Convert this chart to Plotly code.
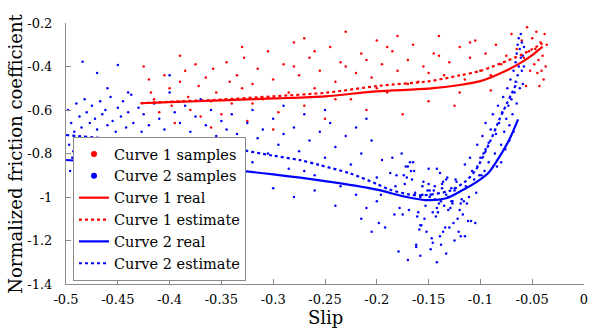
import plotly.graph_objects as go

# ---------------- data ----------------
x_tickvals = [-0.5, -0.45, -0.4, -0.35, -0.3, -0.25, -0.2, -0.15, -0.1, -0.05, 0]
x_ticktext = ["-0.5", "-0.45", "-0.4", "-0.35", "-0.3", "-0.25", "-0.2", "-0.15", "-0.1", "-0.05", "0"]
y_tickvals = [-1.4, -1.2, -1.0, -0.8, -0.6, -0.4, -0.2]
y_ticktext = ["-1.4", "-1.2", "-1", "-0.8", "-0.6", "-0.4", "-0.2"]
x_title = "Slip"
y_title = "Normalized friction coefficient"

curve1_real_x = [-0.428, -0.40, -0.35, -0.30, -0.25, -0.20, -0.15, -0.12, -0.10, -0.08, -0.06, -0.05, -0.04]
curve1_real_y = [-0.569, -0.564, -0.556, -0.547, -0.537, -0.514, -0.502, -0.485, -0.467, -0.430, -0.380, -0.348, -0.309]

curve1_est_x = [-0.428, -0.40, -0.35, -0.30, -0.25, -0.20, -0.15, -0.12, -0.10, -0.08, -0.06, -0.05, -0.04]
curve1_est_y = [-0.569, -0.562, -0.552, -0.537, -0.521, -0.490, -0.468, -0.441, -0.420, -0.385, -0.345, -0.320, -0.293]

curve2_real_x = [-0.5, -0.45, -0.40, -0.35, -0.30, -0.25, -0.20, -0.175, -0.153, -0.133, -0.117, -0.101, -0.0915, -0.082, -0.0723, -0.0636]
curve2_real_y = [-0.830, -0.844, -0.858, -0.872, -0.896, -0.927, -0.966, -0.996, -1.014, -1.006, -0.968, -0.922, -0.885, -0.818, -0.738, -0.643]

curve2_est_x = [-0.5, -0.45, -0.40, -0.3356, -0.30, -0.2746, -0.2553, -0.226, -0.20, -0.188, -0.169, -0.155, -0.13, -0.115, -0.1044, -0.090, -0.0819, -0.0643]
curve2_est_y = [-0.715, -0.735, -0.755, -0.781, -0.810, -0.830, -0.853, -0.891, -0.940, -0.965, -0.988, -0.992, -0.972, -0.930, -0.875, -0.738, -0.646, -0.470]

samples1_x = [
    -0.425, -0.42, -0.418, -0.415, -0.41, -0.405, -0.40, -0.398, -0.395, -0.39,
    -0.385, -0.382, -0.38, -0.375, -0.372, -0.37, -0.365, -0.36, -0.358, -0.355,
    -0.35, -0.345, -0.342, -0.34, -0.335, -0.33, -0.328, -0.325, -0.32, -0.315,
    -0.31, -0.305, -0.30, -0.295, -0.29, -0.285, -0.28, -0.275, -0.27, -0.265,
    -0.26, -0.255, -0.25, -0.245, -0.24, -0.235, -0.23, -0.225, -0.22, -0.215,
    -0.21, -0.205, -0.20, -0.195, -0.19, -0.185, -0.18, -0.175, -0.17, -0.165,
    -0.16, -0.155, -0.15, -0.145, -0.14, -0.135, -0.13, -0.125, -0.12, -0.115,
    -0.11, -0.105, -0.10, -0.095, -0.09, -0.085, -0.08, -0.075, -0.07, -0.065,
    -0.39, -0.36, -0.33, -0.30, -0.27, -0.24, -0.21, -0.18, -0.15, -0.12,
    -0.26, -0.23, -0.20, -0.17, -0.14, -0.11, -0.09, -0.28, -0.32, -0.19,
    -0.06, -0.058, -0.055, -0.053, -0.05, -0.048, -0.046, -0.045, -0.044, -0.042,
    -0.041, -0.04, -0.039, -0.038, -0.037, -0.036, -0.052, -0.056, -0.043, -0.047,
]
samples1_y = [
    -0.40, -0.46, -0.52, -0.55, -0.61, -0.44, -0.50, -0.58, -0.66, -0.47,
    -0.42, -0.54, -0.60, -0.39, -0.49, -0.63, -0.45, -0.56, -0.41, -0.52,
    -0.62, -0.38, -0.47, -0.57, -0.44, -0.50, -0.36, -0.65, -0.48, -0.41,
    -0.55, -0.33, -0.46, -0.61, -0.39, -0.52, -0.29, -0.44, -0.58, -0.36,
    -0.50, -0.42, -0.64, -0.31, -0.47, -0.38, -0.24, -0.55, -0.43, -0.34,
    -0.60, -0.45, -0.28, -0.39, -0.52, -0.33, -0.42, -0.62, -0.37, -0.30,
    -0.47, -0.40, -0.56, -0.34, -0.26, -0.44, -0.38, -0.58, -0.31, -0.46,
    -0.36, -0.28, -0.42, -0.34, -0.51, -0.30, -0.39, -0.35, -0.25, -0.32,
    -0.35, -0.68, -0.31, -0.69, -0.27, -0.55, -0.37, -0.26, -0.43, -0.52,
    -0.33, -0.40, -0.50, -0.48, -0.35, -0.29, -0.44, -0.40, -0.57, -0.31,
    -0.28, -0.36, -0.22, -0.33, -0.27, -0.39, -0.24, -0.43, -0.37, -0.29,
    -0.42, -0.35, -0.46, -0.25, -0.40, -0.30, -0.42, -0.49, -0.49, -0.32,
]

samples2_x = [
    -0.498, -0.495, -0.492, -0.49, -0.487, -0.485, -0.482, -0.48, -0.477, -0.475,
    -0.472, -0.47, -0.467, -0.465, -0.462, -0.46, -0.457, -0.455, -0.452, -0.45,
    -0.447, -0.445, -0.442, -0.44, -0.437, -0.435, -0.43, -0.427, -0.425, -0.42,
    -0.415, -0.41, -0.405, -0.40, -0.395, -0.39, -0.385, -0.38, -0.375, -0.37,
    -0.47, -0.40, -0.44, -0.46, -0.365, -0.36, -0.355, -0.35, -0.345, -0.34,
    -0.497, -0.494, -0.496, -0.493, -0.484, -0.45,
    -0.335, -0.33, -0.325, -0.32, -0.315, -0.31, -0.305, -0.30, -0.295, -0.29,
    -0.285, -0.28, -0.275, -0.27, -0.265, -0.26, -0.255, -0.25, -0.245, -0.24,
    -0.235, -0.23, -0.225, -0.22, -0.215, -0.21, -0.205, -0.20, -0.198, -0.195,
    -0.30, -0.28, -0.26, -0.24, -0.22, -0.29, -0.25, -0.21, -0.32, -0.27,
    -0.172, -0.151, -0.183, -0.139, -0.166, -0.127, -0.158, -0.176, -0.144, -0.162,
    -0.131, -0.187, -0.149, -0.121, -0.168, -0.136, -0.154, -0.113, -0.179, -0.142,
    -0.125, -0.160, -0.134, -0.171, -0.118, -0.147, -0.185, -0.129, -0.156, -0.109,
    -0.164, -0.140, -0.152, -0.123, -0.175, -0.133, -0.146, -0.115, -0.169, -0.137,
    -0.157, -0.128, -0.181, -0.143, -0.119, -0.163, -0.135, -0.150, -0.126, -0.173,
    -0.141, -0.111, -0.159, -0.132, -0.178, -0.145, -0.122, -0.167, -0.138, -0.155,
    -0.117, -0.148, -0.130, -0.174, -0.153, -0.124, -0.161, -0.106, -0.144, -0.136,
    -0.182, -0.120, -0.139, -0.158, -0.112, -0.150, -0.127, -0.170, -0.104, -0.146,
    -0.133, -0.116, -0.165, -0.128, -0.142, -0.101, -0.156, -0.110, -0.137, -0.119,
    -0.108, -0.149, -0.097, -0.124, -0.131, -0.103, -0.114, -0.095, -0.099, -0.092,
    -0.158, -0.148, -0.138, -0.17, -0.125, -0.115, -0.105, -0.142, -0.162, -0.133,
    -0.215, -0.205, -0.20, -0.196, -0.192,
    -0.098, -0.095, -0.092, -0.09, -0.088, -0.086, -0.085, -0.083, -0.082, -0.08,
    -0.079, -0.078, -0.077, -0.075, -0.074, -0.073, -0.072, -0.071, -0.07, -0.069,
    -0.068, -0.067, -0.066, -0.066, -0.065, -0.065, -0.064, -0.064, -0.063, -0.063,
    -0.062, -0.062, -0.061, -0.061, -0.06, -0.06, -0.059, -0.059, -0.058, -0.058,
    -0.076, -0.072, -0.068, -0.084, -0.08, -0.10, -0.096, -0.103,
]
samples2_y = [
    -0.60, -0.66, -0.70, -0.57, -0.63, -0.68, -0.55, -0.61, -0.66, -0.58,
    -0.64, -0.69, -0.56, -0.62, -0.60, -0.67, -0.54, -0.65, -0.70, -0.59,
    -0.63, -0.56, -0.68, -0.61, -0.53, -0.66, -0.59, -0.70, -0.62, -0.67,
    -0.57, -0.64, -0.69, -0.52, -0.61, -0.66, -0.58, -0.70, -0.63, -0.55,
    -0.43, -0.44, -0.52, -0.50, -0.67, -0.60, -0.72, -0.65, -0.69, -0.62,
    -0.76, -0.82, -0.88, -0.79, -0.378, -0.393,
    -0.71, -0.77, -0.66, -0.84, -0.73, -0.69, -0.80, -0.64, -0.76, -0.71,
    -0.87, -0.68, -0.79, -0.62, -0.74, -0.90, -0.70, -0.82, -0.66, -0.77,
    -0.95, -0.72, -0.85, -0.68, -0.80, -1.05, -0.74, -0.91, -1.12, -0.83,
    -0.96, -1.00, -0.97, -1.04, -0.99, -0.58, -0.60, -0.64, -0.60, -0.88,
    -0.86, -0.97, -1.08, -1.18, -0.92, -1.02, -1.13, -0.80, -0.95, -1.22,
    -1.06, -0.89, -1.00, -1.16, -0.84, -0.93, -1.10, -1.03, -1.25, -0.87,
    -0.97, -1.07, -1.14, -0.91, -1.01, -1.19, -0.82, -1.05, -0.95, -1.11,
    -0.88, -1.03, -1.16, -0.93, -1.08, -0.99, -1.21, -0.85, -1.06, -0.96,
    -1.13, -1.02, -0.90, -1.09, -1.18, -0.98, -1.04, -0.87, -1.12, -0.94,
    -1.07, -1.00, -1.15, -0.91, -1.05, -0.97, -1.10, -0.88, -1.02, -0.93,
    -1.08, -0.99, -1.14, -0.90, -1.04, -0.96, -1.09, -0.92, -1.01, -1.16,
    -0.95, -1.06, -0.89, -1.00, -1.11, -0.94, -1.03, -0.86, -0.98, -1.07,
    -0.92, -1.02, -0.84, -0.96, -1.05, -0.90, -0.99, -0.82, -0.94, -1.03,
    -0.88, -0.97, -0.80, -0.92, -1.00, -0.86, -0.95, -0.78, -0.90, -0.84,
    -1.27, -1.24, -1.22, -1.29, -1.20, -1.18, -1.12, -1.30, -1.23, -1.26,
    -1.10, -1.16, -1.02, -0.99, -1.14,
    -0.72, -0.66, -0.75, -0.69, -0.62, -0.80, -0.71, -0.58, -0.66, -0.76,
    -0.61, -0.54, -0.70, -0.64, -0.50, -0.58, -0.67, -0.46, -0.55, -0.62,
    -0.42, -0.52, -0.38, -0.47, -0.34, -0.57, -0.30, -0.44, -0.27, -0.40,
    -0.32, -0.50, -0.36, -0.25, -0.42, -0.29, -0.35, -0.48, -0.31, -0.40,
    -0.78, -0.74, -0.70, -0.86, -0.84, -0.82, -0.88, -0.76,
]

RED = "#ff0000"
BLUE = "#0000ff"
FONT = "DejaVu Serif"
AXIS_GREY = "#8a8a8a"

fig = go.Figure()

fig.add_trace(go.Scatter(x=samples1_x, y=samples1_y, mode="markers",
                         marker=dict(color=RED, size=2.5), showlegend=False))
fig.add_trace(go.Scatter(x=samples2_x, y=samples2_y, mode="markers",
                         marker=dict(color=BLUE, size=2.5), showlegend=False))

fig.add_trace(go.Scatter(x=[None], y=[None], mode="markers", name="Curve 1 samples",
                         marker=dict(color=RED, size=6)))
fig.add_trace(go.Scatter(x=[None], y=[None], mode="markers", name="Curve 2 samples",
                         marker=dict(color=BLUE, size=6)))

fig.add_trace(go.Scatter(x=curve1_real_x, y=curve1_real_y, mode="lines", name="Curve 1 real",
                         line=dict(color=RED, width=2.2, shape="spline", smoothing=0.8)))
fig.add_trace(go.Scatter(x=curve1_est_x, y=curve1_est_y, mode="lines", name="Curve 1 estimate",
                         line=dict(color=RED, width=2.2, dash="dot", shape="spline", smoothing=0.8)))
fig.add_trace(go.Scatter(x=curve2_real_x, y=curve2_real_y, mode="lines", name="Curve 2 real",
                         line=dict(color=BLUE, width=2.2, shape="spline", smoothing=0.8)))
fig.add_trace(go.Scatter(x=curve2_est_x, y=curve2_est_y, mode="lines", name="Curve 2 estimate",
                         line=dict(color=BLUE, width=2.2, dash="dot", shape="spline", smoothing=0.8)))

axis_common = dict(
    showgrid=False, zeroline=False, showline=True, linecolor=AXIS_GREY, linewidth=1,
    ticks="inside", ticklen=5, tickcolor=AXIS_GREY, mirror=False, automargin=False,
    tickfont=dict(family=FONT, size=13, color="black"),
)

fig.update_layout(
    width=589, height=330,
    margin=dict(l=66, r=5, t=23, b=46),
    paper_bgcolor="white", plot_bgcolor="white",
    font=dict(family=FONT, color="black"),
    xaxis=dict(range=[-0.5, 0], tickvals=x_tickvals, ticktext=x_ticktext,
               ticklabelstandoff=3, ticklabeloverflow="allow", **axis_common),
    yaxis=dict(range=[-1.4, -0.2], tickvals=y_tickvals, ticktext=y_ticktext,
               ticklabelstandoff=10, **axis_common),
    legend=dict(x=0.0135, y=0.563, xanchor="left", yanchor="top",
                bgcolor="white", bordercolor=AXIS_GREY, borderwidth=1,
                font=dict(family=FONT, size=14.5, color="black"),
                itemwidth=30, tracegroupgap=0),
    annotations=[
        dict(text=x_title, xref="paper", yref="paper", x=0.5, y=-0.13,
             xanchor="center", yanchor="middle", showarrow=False,
             font=dict(family=FONT, size=18, color="black")),
        dict(text=y_title, xref="paper", yref="paper", x=-0.098, y=0.5,
             xanchor="center", yanchor="middle", textangle=-90, showarrow=False,
             font=dict(family=FONT, size=18, color="black")),
    ],
)

fig.write_html("out.html", config={"displayModeBar": False},
               post_script="document.body.style.margin='0';document.body.style.padding='0';")
